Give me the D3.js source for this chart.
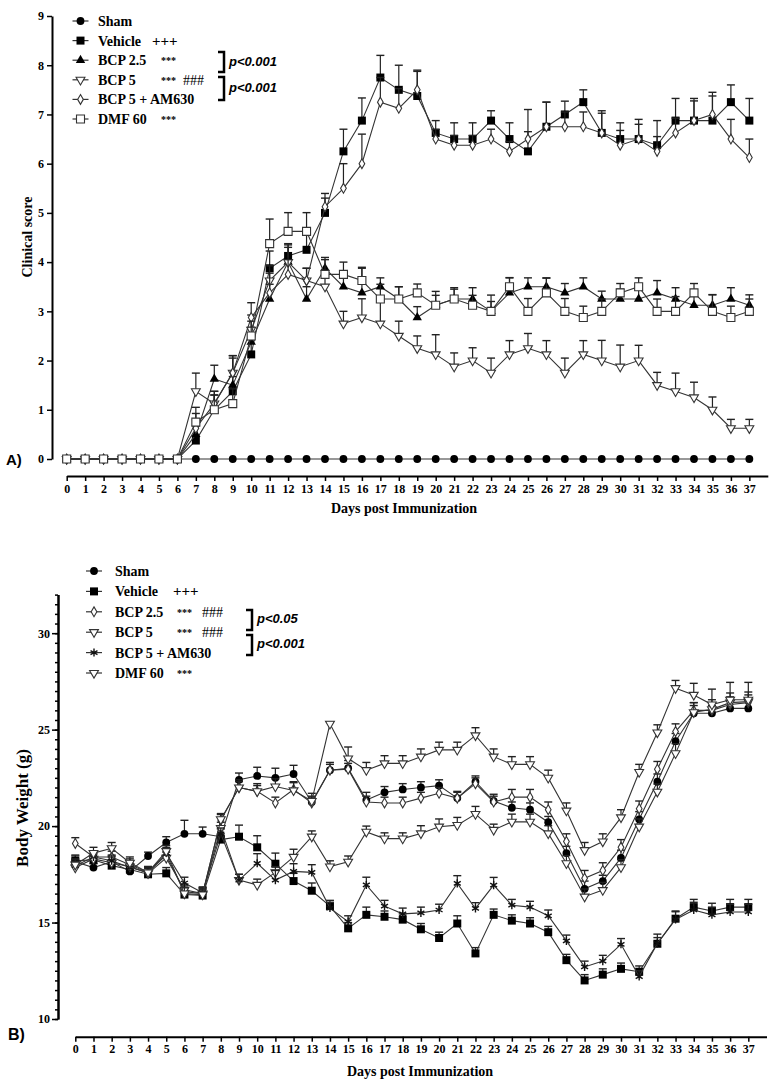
<!DOCTYPE html>
<html>
<head>
<meta charset="utf-8">
<script src="https://cdn.jsdelivr.net/npm/d3@7"></script>
<style>
body { margin: 0; background: #fff; }
svg text { font-family: "Liberation Serif", "Times New Roman", serif; }
.axis path, .axis line { stroke: #000; stroke-width: 1.5; }
.axis path.domain { stroke-width: 2; }
.axis text { font-size: 12px; font-weight: bold; fill: #000; font-family: "Liberation Serif", serif; }
.lab { font-weight: bold; fill: #000; }
.ptext { font-family: "Liberation Sans", Arial, sans-serif !important; font-style: italic; font-weight: bold; font-size: 13px; }
</style>
</head>
<body>
<svg id="chart"></svg>
<script>
// days on the x axis (same for both panels)
const days = [0,1,2,3,4,5,6,7,8,9,10,11,12,13,14,15,16,17,18,19,20,21,22,23,24,25,26,27,28,29,30,31,32,33,34,35,36,37];
const scoreTicks = [0,1,2,3,4,5,6,7,8,9];
const weightTicks = [10,15,20,25,30];

// A) clinical score, mean
const scoreSham = [0,0,0,0,0,0,0,0,0,0,0,0,0,0,0,0,0,0,0,0,0,0,0,0,0,0,0,0,0,0,0,0,0,0,0,0,0,0];
const scoreVehicle = [0,0,0,0,0,0,0,0.375,1.0,1.375,2.125,3.875,4.125,4.25,5.0,6.25,6.875,7.75,7.5,7.375,6.625,6.5,6.5,6.875,6.5,6.25,6.75,7.0,7.25,6.625,6.5,6.5,6.375,6.875,6.875,6.875,7.25,6.875];
const scoreBcp25 = [0,0,0,0,0,0,0,0.5,1.625,1.5,2.375,3.25,4.0,3.25,3.875,3.5,3.375,3.5,3.25,2.875,3.125,3.25,3.25,3.0,3.375,3.5,3.5,3.375,3.5,3.25,3.25,3.25,3.375,3.25,3.125,3.125,3.25,3.125];
const scoreBcp5 = [0,0,0,0,0,0,0,1.375,1.125,1.75,2.625,3.625,4.0,3.625,3.5,2.75,2.875,2.75,2.5,2.25,2.125,1.875,2.0,1.75,2.125,2.25,2.125,1.75,2.125,2.0,1.875,2.0,1.5,1.375,1.25,1.0,0.625,0.625];
const scoreAm630 = [0,0,0,0,0,0,0,0.625,1.125,1.75,2.875,3.375,3.75,3.625,5.125,5.5,6.0,7.25,7.125,7.5,6.5,6.375,6.375,6.5,6.25,6.5,6.75,6.75,6.75,6.625,6.375,6.5,6.25,6.625,6.875,7.0,6.5,6.125];
const scoreDmf = [0,0,0,0,0,0,0,0.75,1.0,1.125,2.5,4.375,4.625,4.625,3.75,3.75,3.625,3.25,3.25,3.375,3.125,3.25,3.125,3.0,3.5,3.0,3.375,3.0,2.875,3.0,3.375,3.5,3.0,3.0,3.375,3.0,2.875,3.0];
// A) clinical score, SEM
const semScoreSham = [0,0,0,0,0,0,0,0,0,0,0,0,0,0,0,0,0,0,0,0,0,0,0,0,0,0,0,0,0,0,0,0,0,0,0,0,0,0];
const semScoreVehicle = [0,0,0,0,0,0,0,0.3,0.3,0.3,0.3,0.35,0.25,0.3,0.3,0.45,0.46,0.45,0.5,0.5,0.25,0.33,0.33,0.2,0.33,0.4,0.5,0.27,0.25,0.45,0.33,0.4,0.5,0.45,0.45,0.5,0.35,0.45];
const semScoreBcp25 = [0,0,0,0,0,0,0,0.3,0.28,0.6,0.3,0.3,0.35,0.25,0.22,0.25,0.5,0.18,0.25,0.22,0.2,0.2,0.23,0.2,0.31,0.18,0.18,0.19,0.18,0.16,0.2,0.2,0.25,0.23,0.2,0.21,0.23,0.21];
const semScoreBcp5 = [0,0,0,0,0,0,0,0.37,0.25,0.35,0.3,0.3,0.3,0.25,0.2,0.25,0.38,0.5,0.3,0.25,0.4,0.28,0.26,0.3,0.28,0.3,0.28,0.3,0.28,0.41,0.44,0.31,0.26,0.37,0.31,0.26,0.18,0.18];
const semScoreAm630 = [0,0,0,0,0,0,0,0.3,0.25,0.3,0.3,0.4,0.3,0.25,0.27,0.5,0.6,0.5,0.4,0.4,0.2,0.2,0.2,0.2,0.2,0.6,0.5,0.3,0.3,0.4,0.3,0.3,0.3,0.3,0.4,0.45,0.4,0.375];
const semScoreDmf = [0,0,0,0,0,0,0,0.3,0.3,0.3,0.3,0.5,0.38,0.38,0.3,0.25,0.27,0.3,0.25,0.18,0.28,0.23,0.2,0.33,0.18,0.26,0.3,0.26,0.23,0.25,0.19,0.18,0.25,0.3,0.19,0.34,0.23,0.25];

// B) body weight (g), mean
const weightSham = [18.15,17.85,18.15,17.65,18.45,19.15,19.6,19.6,19.45,22.4,22.6,22.5,22.7,21.25,22.9,23.0,21.35,21.75,21.9,22.0,22.1,21.45,22.3,21.3,20.95,20.85,20.2,18.6,16.75,17.15,18.35,20.35,22.3,24.4,25.85,25.85,26.1,26.1];
const weightVehicle = [18.2,18.25,17.95,17.75,17.5,17.55,16.45,16.4,19.3,19.45,18.9,18.05,17.15,16.65,15.85,14.7,15.4,15.3,15.15,14.65,14.2,14.95,13.4,15.4,15.1,14.95,14.5,13.05,12.0,12.3,12.6,12.45,13.9,15.2,15.8,15.6,15.8,15.8];
const weightBcp25 = [19.1,18.4,18.4,18.0,17.6,18.5,16.6,16.5,20.3,22.0,21.8,21.2,21.9,21.2,22.9,22.95,21.25,21.2,21.2,21.45,21.7,21.45,22.2,21.25,21.5,21.5,20.85,19.2,17.3,17.7,18.9,20.9,22.95,24.9,26.0,26.0,26.3,26.4];
const weightBcp5 = [17.85,18.3,18.1,17.9,17.55,18.35,16.7,16.5,19.9,17.2,16.95,17.6,18.4,19.45,17.9,18.15,19.7,19.35,19.35,19.62,19.97,20.05,20.62,19.8,20.22,20.22,19.62,18.07,16.34,16.68,17.86,19.97,21.78,23.77,25.9,26.05,26.4,26.45];
const weightAm630 = [17.95,18.4,18.2,17.85,17.6,18.6,17.05,16.55,19.6,17.2,18.07,17.2,17.65,17.6,15.75,15.05,16.95,15.85,15.45,15.5,15.65,17.03,15.73,16.94,15.9,15.8,15.35,14.05,12.7,13.0,13.87,12.2,13.92,15.16,15.65,15.4,15.55,15.55];
const weightDmf = [18.0,18.6,18.85,18.1,17.6,18.7,16.5,16.45,20.35,22.0,21.8,22.05,21.85,21.3,25.3,23.5,22.9,23.25,23.25,23.6,23.95,23.95,24.7,23.6,23.2,23.2,22.5,20.8,18.75,19.2,20.45,22.8,24.85,27.15,26.8,26.3,26.55,26.55];
// B) body weight, SEM
const semWeightSham = [0.3,0.2,0.3,0.3,0.2,0.3,0.7,0.35,0.4,0.35,0.45,0.5,0.45,0.3,0.4,0.4,0.4,0.3,0.3,0.3,0.3,0.35,0.3,0.35,0.3,0.35,0.3,0.35,0.4,0.3,0.4,0.4,0.4,0.4,0.4,0.4,0.4,0.4];
const semWeightVehicle = [0.3,0.3,0.3,0.3,0.3,0.3,0.3,0.3,0.3,0.6,0.6,0.55,0.4,0.4,0.3,0.3,0.4,0.3,0.3,0.3,0.3,0.4,0.3,0.3,0.3,0.3,0.3,0.3,0.3,0.3,0.3,0.3,0.5,0.4,0.4,0.4,0.4,0.4];
const semWeightBcp25 = [0.3,0.3,0.3,0.3,0.3,0.3,0.3,0.3,0.3,0.3,0.3,0.3,0.4,0.3,0.3,0.3,0.3,0.3,0.3,0.3,0.3,0.3,0.3,0.3,0.4,0.4,0.4,0.4,0.4,0.4,0.4,0.4,0.4,0.4,0.4,0.4,0.4,0.4];
const semWeightBcp5 = [0.3,0.3,0.3,0.3,0.3,0.3,0.3,0.3,0.3,0.3,0.3,0.3,0.4,0.3,0.3,0.3,0.3,0.3,0.3,0.4,0.4,0.4,0.4,0.3,0.4,0.4,0.4,0.4,0.4,0.4,0.4,0.4,0.4,0.5,0.5,0.5,0.5,0.5];
const semWeightAm630 = [0.3,0.3,0.3,0.3,0.3,0.3,0.3,0.3,0.3,0.3,0.5,0.5,0.4,0.4,0.3,0.3,0.4,0.3,0.3,0.3,0.3,0.4,0.3,0.4,0.3,0.3,0.3,0.3,0.3,0.3,0.3,0.3,0.3,0.4,0.4,0.4,0.4,0.4];
const semWeightDmf = [0.3,0.3,0.3,0.3,0.3,0.3,0.3,0.3,0.3,0.4,0.4,0.4,0.4,0.4,0.1,0.6,0.4,0.4,0.4,0.4,0.4,0.4,0.4,0.4,0.4,0.4,0.4,0.4,0.4,0.4,0.4,0.4,0.4,0.4,0.6,0.8,0.9,0.9];

let svg = d3.select("#chart")
    .attr("width", 778)
    .attr("height", 1086);

// marker shapes
function markerPath(kind) {
    let sym = d3.symbol();
    if (kind === "circle") sym.type(d3.symbolCircle).size(48);
    else if (kind === "square" || kind === "osquare") sym.type(d3.symbolSquare).size(64);
    else if (kind === "triUp") sym.type(d3.symbolTriangle).size(38);
    else if (kind === "triDown") sym.type(d3.symbolTriangle).size(34);
    else if (kind === "diamond") sym.type(d3.symbolDiamond).size(28);
    else if (kind === "star") sym.type(d3.symbolAsterisk).size(45);
    return sym();
}
function addMarker(g, kind, x, y) {
    let open = (kind === "osquare" || kind === "triDown" || kind === "diamond");
    let m = g.append("path")
        .attr("d", markerPath(kind))
        .attr("transform", `translate(${x},${y})` + (kind === "triDown" ? " rotate(180)" : ""));
    if (kind === "star") {
        m.attr("fill", "none").attr("stroke", "#111").attr("stroke-width", 1.4);
    } else if (open) {
        m.attr("fill", "#fff").attr("stroke", "#333").attr("stroke-width", 1.1);
    } else {
        m.attr("fill", "#000");
    }
}

// one group: error bars, connecting line, markers
function drawSeries(g, x, y, s) {
    let pts = days.map((d, i) => ({ day: d, v: s.values[i], e: s.sem[i] }));
    let eb = g.append("g");
    pts.filter(p => p.e > 0).forEach(p => {
        eb.append("line")
            .attr("x1", x(p.day)).attr("x2", x(p.day))
            .attr("y1", y(p.v)).attr("y2", y(p.v + p.e))
            .attr("stroke", "#222").attr("stroke-width", 1.2);
        eb.append("line")
            .attr("x1", x(p.day) - 4).attr("x2", x(p.day) + 4)
            .attr("y1", y(p.v + p.e)).attr("y2", y(p.v + p.e))
            .attr("stroke", "#222").attr("stroke-width", 1.4);
    });
    let line = d3.line().x(p => x(p.day)).y(p => y(p.v));
    g.append("path")
        .attr("d", line(pts))
        .attr("fill", "none")
        .attr("stroke", "#333")
        .attr("stroke-width", 1.1);
    let mg = g.append("g");
    pts.forEach(p => addMarker(mg, s.kind, x(p.day), y(p.v)));
}

function drawLegend(items, x0, y0, dy, textX) {
    let lg = svg.append("g");
    items.forEach((it, i) => {
        let cy = y0 + i * dy;
        lg.append("line")
            .attr("x1", x0 - 8).attr("x2", x0 + 8)
            .attr("y1", cy).attr("y2", cy)
            .attr("stroke", "#333").attr("stroke-width", 1.2);
        addMarker(lg, it.kind, x0, cy);
        lg.append("text").attr("class", "lab")
            .attr("x", textX).attr("y", cy + 5)
            .style("font-size", "14px")
            .text(it.name);
        it.marks.forEach(m => {
            let fs = m.t === "***" ? "10px" : (m.t === "+++" ? "15px" : "14px");
            lg.append("text").attr("class", "lab")
                .attr("x", m.x).attr("y", cy + (m.t === "***" ? 4 : 5))
                .style("font-size", fs)
                .style("font-weight", m.t === "###" ? "normal" : "bold")
                .text(m.t);
        });
    });
}

function bracket(x, y1, y2, label, ly) {
    svg.append("path")
        .attr("d", `M${x - 6},${y1}H${x}V${y2}H${x - 6}`)
        .attr("fill", "none").attr("stroke", "#000").attr("stroke-width", 2.5);
    svg.append("text").attr("class", "ptext")
        .attr("x", x + 5).attr("y", ly)
        .text(label);
}

// ---------- A) Clinical score ----------
let xA = d3.scaleLinear().domain([0, 38]).range([66.7, 767.8]);
let yA = d3.scaleLinear().domain([0, 9]).range([459, 16]);

svg.append("g").attr("class", "axis")
    .attr("transform", "translate(52,0)")
    .call(d3.axisLeft(yA).tickValues(scoreTicks).tickSize(5).tickSizeOuter(0).tickPadding(3));
svg.append("g").attr("class", "axis")
    .attr("transform", "translate(0,476)")
    .call(d3.axisBottom(xA).tickValues(days).tickSize(5).tickSizeOuter(0).tickPadding(3));

let seriesA = [
    { name: "Sham", kind: "circle", values: scoreSham, sem: semScoreSham },
    { name: "Vehicle", kind: "square", values: scoreVehicle, sem: semScoreVehicle },
    { name: "BCP 2.5", kind: "triUp", values: scoreBcp25, sem: semScoreBcp25 },
    { name: "BCP 5", kind: "triDown", values: scoreBcp5, sem: semScoreBcp5 },
    { name: "BCP 5 + AM630", kind: "diamond", values: scoreAm630, sem: semScoreAm630 },
    { name: "DMF 60", kind: "osquare", values: scoreDmf, sem: semScoreDmf }
];
let gA = svg.append("g");
seriesA.forEach(s => drawSeries(gA, xA, yA, s));

drawLegend([
    { name: "Sham", kind: "circle", marks: [] },
    { name: "Vehicle", kind: "square", marks: [{ x: 152, t: "+++" }] },
    { name: "BCP 2.5", kind: "triUp", marks: [{ x: 161, t: "***" }] },
    { name: "BCP 5", kind: "triDown", marks: [{ x: 161, t: "***" }, { x: 183, t: "###" }] },
    { name: "BCP 5 + AM630", kind: "diamond", marks: [] },
    { name: "DMF 60", kind: "osquare", marks: [{ x: 161, t: "***" }] }
], 80.5, 21, 19.6, 98);
bracket(224, 52, 72, "p<0.001", 66);
bracket(224, 77, 100, "p<0.001", 92);

svg.append("text").attr("class", "lab")
    .attr("transform", "translate(32,237) rotate(-90)")
    .attr("text-anchor", "middle")
    .style("font-size", "14px")
    .text("Clinical score");
svg.append("text").attr("class", "lab")
    .attr("x", 404).attr("y", 513)
    .attr("text-anchor", "middle")
    .style("font-size", "14px")
    .text("Days post Immunization");
svg.append("text")
    .attr("x", 6).attr("y", 465)
    .style("font-family", "Liberation Sans, Arial, sans-serif")
    .style("font-weight", "bold")
    .style("font-size", "15px")
    .text("A)");

// ---------- B) Body weight ----------
let xB = d3.scaleLinear().domain([0, 38]).range([75.3, 766.5]);
let yB = d3.scaleLinear().domain([10, 32]).range([1019, 594.6]);

// minor ticks every 0.5 g
svg.append("g").attr("class", "axis")
    .attr("transform", "translate(58,0)")
    .call(d3.axisLeft(yB).tickValues(d3.range(10, 32.01, 0.5)).tickSize(3).tickSizeOuter(0).tickFormat(""));
svg.append("g").attr("class", "axis")
    .attr("transform", "translate(58,0)")
    .call(d3.axisLeft(yB).tickValues(weightTicks).tickSize(6).tickSizeOuter(0).tickPadding(2));
svg.append("g").attr("class", "axis")
    .attr("transform", "translate(0,1036.7)")
    .call(d3.axisBottom(xB).tickValues(days).tickSize(5).tickSizeOuter(0).tickPadding(3));

let seriesB = [
    { name: "Sham", kind: "circle", values: weightSham, sem: semWeightSham },
    { name: "Vehicle", kind: "square", values: weightVehicle, sem: semWeightVehicle },
    { name: "BCP 2.5", kind: "diamond", values: weightBcp25, sem: semWeightBcp25 },
    { name: "BCP 5", kind: "triDown", values: weightBcp5, sem: semWeightBcp5 },
    { name: "BCP 5 + AM630", kind: "star", values: weightAm630, sem: semWeightAm630 },
    { name: "DMF 60", kind: "triDown", values: weightDmf, sem: semWeightDmf }
];
let gB = svg.append("g");
seriesB.forEach(s => drawSeries(gB, xB, yB, s));

drawLegend([
    { name: "Sham", kind: "circle", marks: [] },
    { name: "Vehicle", kind: "square", marks: [{ x: 173, t: "+++" }] },
    { name: "BCP 2.5", kind: "diamond", marks: [{ x: 177, t: "***" }, { x: 202, t: "###" }] },
    { name: "BCP 5", kind: "triDown", marks: [{ x: 177, t: "***" }, { x: 202, t: "###" }] },
    { name: "BCP 5 + AM630", kind: "star", marks: [] },
    { name: "DMF 60", kind: "triDown", marks: [{ x: 177, t: "***" }] }
], 94, 571, 20.4, 115);
bracket(252, 610, 630, "p<0.05", 623);
bracket(252, 635, 655, "p<0.001", 648);

svg.append("text").attr("class", "lab")
    .attr("transform", "translate(28,808) rotate(-90)")
    .attr("text-anchor", "middle")
    .style("font-size", "17px")
    .text("Body Weight (g)");
svg.append("text").attr("class", "lab")
    .attr("x", 420).attr("y", 1076)
    .attr("text-anchor", "middle")
    .style("font-size", "14px")
    .text("Days post Immunization");
svg.append("text")
    .attr("x", 8).attr("y", 1040)
    .style("font-family", "Liberation Sans, Arial, sans-serif")
    .style("font-weight", "bold")
    .style("font-size", "16px")
    .text("B)");
</script>
</body>
</html>
